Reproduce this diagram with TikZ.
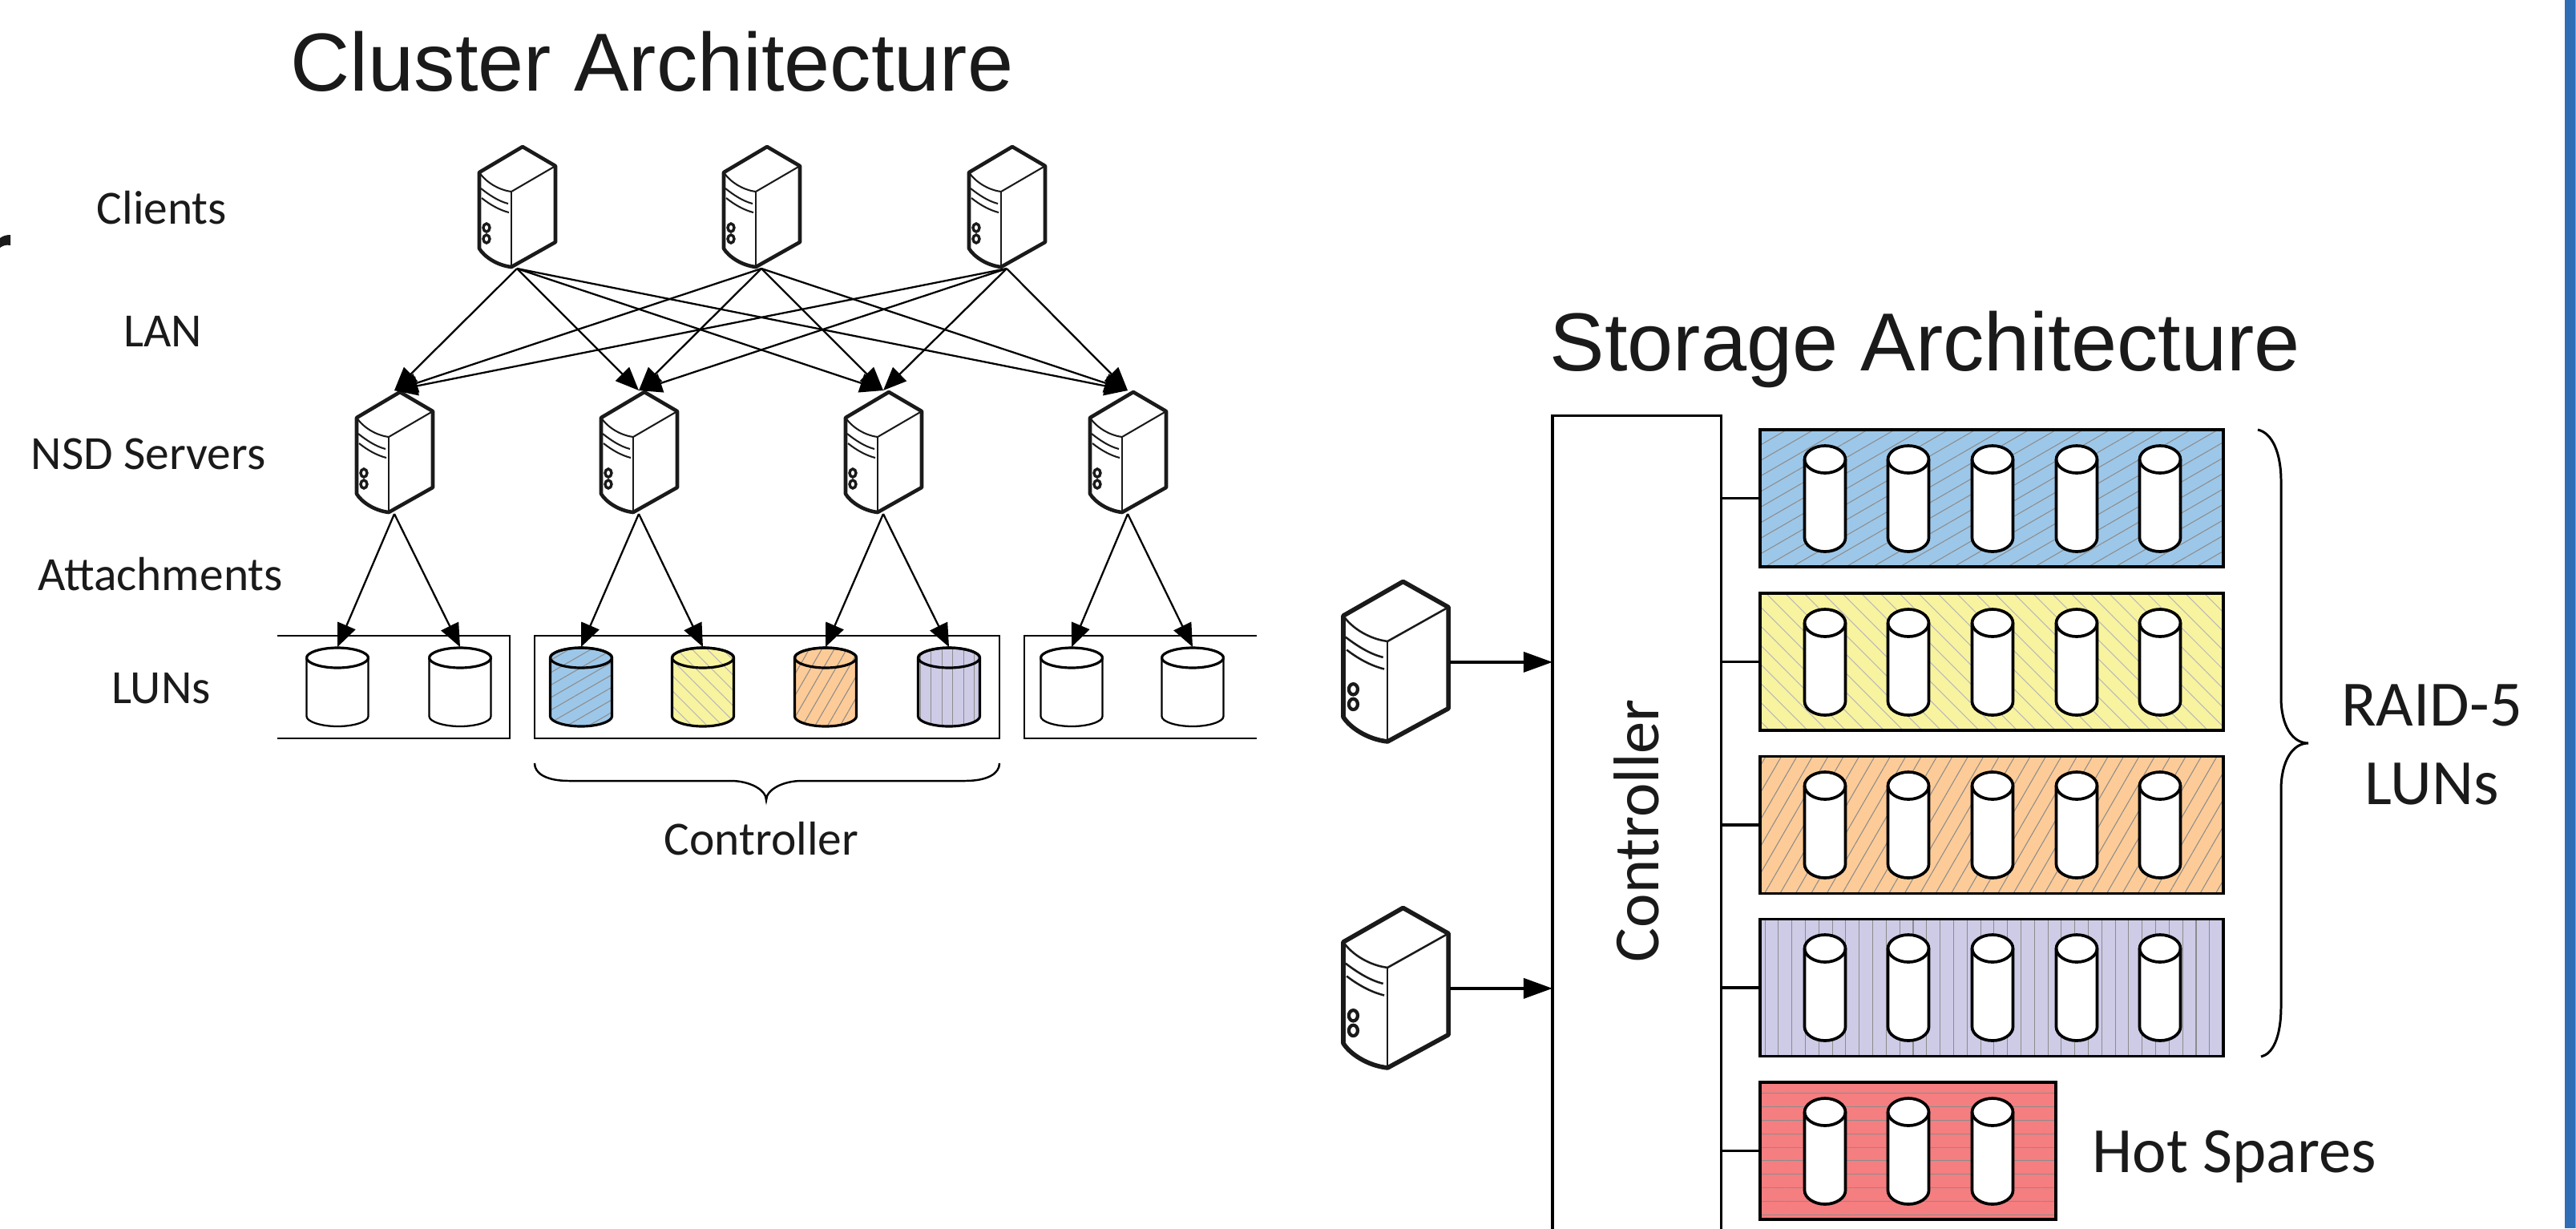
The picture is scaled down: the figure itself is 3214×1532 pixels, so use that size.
\documentclass[tikz,border=0pt]{standalone}
\usepackage{fontspec}
\setmainfont{Carlito}
\newfontfamily\titlefont{Liberation Sans}
\usetikzlibrary{arrows.meta,patterns.meta}
\definecolor{inkc}{HTML}{1A1A1A}
\definecolor{lunblue}{HTML}{9DC7E8}
\definecolor{lunyellow}{HTML}{F8F39F}
\definecolor{lunorange}{HTML}{FDCB97}
\definecolor{lunpurple}{HTML}{CDCBE6}
\definecolor{lunred}{HTML}{F47E80}
\definecolor{hatchdark}{HTML}{8C8C8C}
\definecolor{hatchlight}{HTML}{B8B8B8}
\definecolor{barblue}{HTML}{2F6EB5}
\definecolor{barlight}{HTML}{7FA8D8}
\tikzset{
  hatchfill/.style n args={4}{preaction={fill=#1},
    pattern={Lines[angle=#3,distance=#4,line width=.3pt]},pattern color=#2},
  bluelun/.style={hatchfill={lunblue}{hatchdark}{30}{#1}},
  yellowlun/.style={hatchfill={lunyellow}{hatchlight}{-45}{#1}},
  orangelun/.style={hatchfill={lunorange}{hatchdark}{60}{#1}},
  purplelun/.style={hatchfill={lunpurple}{hatchdark}{90}{#1}},
  redlun/.style={hatchfill={lunred}{hatchdark}{0}{#1}},
  % small drums
  whitedrum/.style={fill=white,line width=.65pt},
  bluedrum/.style={bluelun=1.35mm,line width=.9pt},
  yellowdrum/.style={yellowlun=1.35mm,line width=.9pt},
  orangedrum/.style={orangelun=1.35mm,line width=.9pt},
  purpledrum/.style={purplelun=1.35mm,line width=.9pt},
  rack/.style={draw=black,line width=1.05pt,inner sep=0pt,outer sep=0pt,minimum height=1.71cm},
  caption/.style={text=inkc,anchor=base,inner sep=0pt,font=\fontsize{16.9}{20}\selectfont},
  biglabel/.style={text=inkc,anchor=base,inner sep=0pt,font=\fontsize{22.9}{26}\selectfont},
  heading/.style={text=inkc,anchor=base,inner sep=0pt,font=\titlefont\fontsize{29.2}{34}\selectfont},
  linkarrow/.style={line width=.65pt,-{Triangle[length=2.9mm,width=2.4mm]}},
  hostarrow/.style={line width=1.05pt,-{Triangle[length=3.6mm,width=2.5mm]}},
  stub/.style={line width=.9pt},
  bracket/.style={line width=.7pt},
  pics/server/.style={code={
    \draw[inkc,line width=#1,line join=round] (0,0) -- (54,-32) -- (95,-8) -- (95,87) -- (40,118)
      .. controls (22,116) and (6,105) .. (0,95) -- cycle;
    \draw[inkc,line width=.45*#1] (0,0) .. controls (8,12) and (24,22) .. (40,24) -- (95,-8);
    \draw[inkc,line width=.45*#1] (40,24) -- (40,118);
    \draw[inkc,line width=.45*#1] (2,20) .. controls (12,28) and (24,36) .. (36,39);
    \draw[inkc,line width=.45*#1] (3,32) .. controls (13,40) and (25,47) .. (37,50);
    \draw[inkc,line width=.75*#1] (9,69) ellipse[x radius=4,y radius=5];
    \draw[inkc,line width=.75*#1] (9,83) ellipse[x radius=4,y radius=5];
    \coordinate (-bot) at (47,120);
    \coordinate (-tip) at (47,-34);
    \coordinate (-out) at (96.5,43.5);
  }},
  pics/lundrum/.style={code={
    \draw[#1] (-38.5,12.5) -- (-38.5,85.5) .. controls (-38.5,92) and (-21,98) .. (0,98)
      .. controls (21,98) and (38.5,92) .. (38.5,85.5) -- (38.5,12.5)
      .. controls (38.5,6) and (21,0) .. (0,0) .. controls (-21,0) and (-38.5,6) .. (-38.5,12.5) -- cycle;
    \draw[line width=.9pt] (-38.5,12.5) .. controls (-38.5,19) and (-21,25) .. (0,25)
      .. controls (21,25) and (38.5,19) .. (38.5,12.5);
    \draw[line width=.9pt] (-38.5,12.5) .. controls (-38.5,6) and (-21,0) .. (0,0)
      .. controls (21,0) and (38.5,6) .. (38.5,12.5);
    \coordinate (-top) at (0,-1);
  }},
  pics/spindle/.style={code={
    \draw[fill=white,line width=1.05pt] (-25.5,17) -- (-25.5,115) .. controls (-25.5,124) and (-14,132) .. (0,132)
      .. controls (14,132) and (25.5,124) .. (25.5,115) -- (25.5,17)
      .. controls (25.5,8) and (14,0) .. (0,0) .. controls (-14,0) and (-25.5,8) .. (-25.5,17) -- cycle;
    \draw[line width=1.05pt] (-25.5,17) .. controls (-25.5,26) and (-14,34) .. (0,34)
      .. controls (14,34) and (25.5,26) .. (25.5,17);
  }},
}
\begin{document}
\begin{tikzpicture}[x=0.01cm,y=-0.01cm]
\useasboundingbox (0,0) rectangle (3214,1532);
\fill[white] (0,0) rectangle (3214,1532);
\clip (0,0) rectangle (3214,1532);
% Edge of page
\fill[barblue] (3200,0) rectangle (3213,1532);
\fill[barlight] (3213,0) rectangle (3214,1532);
\fill[inkc] (0,297) .. controls (4,294) and (8,293) .. (13,293) -- (13,306) .. controls (8,305) and (4,306) .. (0,309) -- cycle;
% Titles
\node[heading,anchor=base west] (clustertitle) at (362,113) {Cluster Architecture};
\node[heading,anchor=base west] (storagetitle) at (1933,462) {Storage Architecture};
% Tier labels
\node[caption] (lclients) at (202,279) {Clients};
\node[caption] (llan) at (203,432) {LAN};
\node[caption] (lnsd) at (185,585) {NSD Servers};
\node[caption] (lattach) at (200,736) {Attachments};
\node[caption] (lluns) at (201,877) {LUNs};
% Shelves
\draw[line width=.8pt] (346,793) -- (636,793) -- (636,921) -- (346,921);
\draw[line width=.8pt] (667,793) rectangle (1247,921);
\draw[line width=.8pt] (1568,793) -- (1278,793) -- (1278,921) -- (1568,921);
% Servers
\foreach \i/\x in {1/598,2/903,3/1209}
    \pic (c\i) at (\x,215) {server=1.3pt};
\foreach \i/\x in {1/445,2/750,3/1055,4/1360}
    \pic (n\i) at (\x,521) {server=1.3pt};
% Drums
\foreach \i/\x/\sty in {1/421/whitedrum,2/574/whitedrum,3/725/bluedrum,4/877/yellowdrum,5/1030/orangedrum,6/1184/purpledrum,7/1337/whitedrum,8/1488/whitedrum}
    \pic (d\i) at (\x,808) {lundrum=\sty};
% Links
\foreach \i in {1,2,3}
    \foreach \j in {1,2,3,4}
        \draw[linkarrow] (c\i-bot) -- (n\j-tip);
\foreach \j/\k in {1/1,1/2,2/3,2/4,3/5,3/6,4/7,4/8}
    \draw[linkarrow] (n\j-bot) -- (d\k-top);
% Brace under shelf
\draw[bracket] (667,952) .. controls (667,965) and (682,974) .. (710,974) -- (912,974)
    .. controls (935,974) and (956,985) .. (956,998) .. controls (956,985) and (977,974) .. (1000,974)
    -- (1204,974) .. controls (1232,974) and (1247,965) .. (1247,952);
\node[caption] (lctrl) at (950,1066) {Controller};
% Controller
\node[draw=black,line width=.9pt,inner sep=0pt,outer sep=0pt,minimum width=2.1cm,minimum height=10.42cm] (ctrl) at (2042,1040) {};
\node[biglabel,rotate=90] (ctrltext) at (2069,1036) {Controller};
\pic[xscale=1.38,yscale=1.33] (s1) at (1676,768) {server=1.6pt};
\pic[xscale=1.38,yscale=1.33] (s2) at (1676,1175) {server=1.6pt};
\foreach \i in {1,2}
    \draw[hostarrow] (s\i-out) -- (ctrl.west |- s\i-out);
% Racks
\node[rack,minimum width=5.78cm,bluelun=1.68mm] (r1) at (2485,621.5) {};
\node[rack,minimum width=5.78cm,yellowlun=1.68mm] (r2) at (2485,825.5) {};
\node[rack,minimum width=5.78cm,orangelun=1.68mm] (r3) at (2485,1029) {};
\node[rack,minimum width=5.78cm,purplelun=1.68mm] (r4) at (2485,1232) {};
\node[rack,minimum width=3.69cm,redlun=1.68mm] (r5) at (2380.5,1435.5) {};
\foreach \i in {1,2,3,4,5}
    \draw[stub] (ctrl.east |- r\i.west) -- (r\i.west);
\foreach \y in {556,760,963,1166}
    \foreach \x in {2277,2381,2486,2591,2695}
        \pic at (\x,\y) {spindle};
\foreach \x in {2277,2381,2486}
    \pic at (\x,1370) {spindle};
% Right side
\draw[line width=.85pt] (2817,536) .. controls (2835,540) and (2846,565) .. (2846,600) -- (2846,870)
    .. controls (2846,905) and (2860,927) .. (2880,927) .. controls (2860,927) and (2846,950) .. (2846,985)
    -- (2846,1255) .. controls (2846,1295) and (2835,1315) .. (2821,1318);
\node[biglabel] (lraid) at (3034,905) {RAID-5};
\node[biglabel] (lraidb) at (3034,1003) {LUNs};
\node[biglabel,anchor=base west] (lspare) at (2610,1462) {Hot Spares};
\end{tikzpicture}
\end{document}
